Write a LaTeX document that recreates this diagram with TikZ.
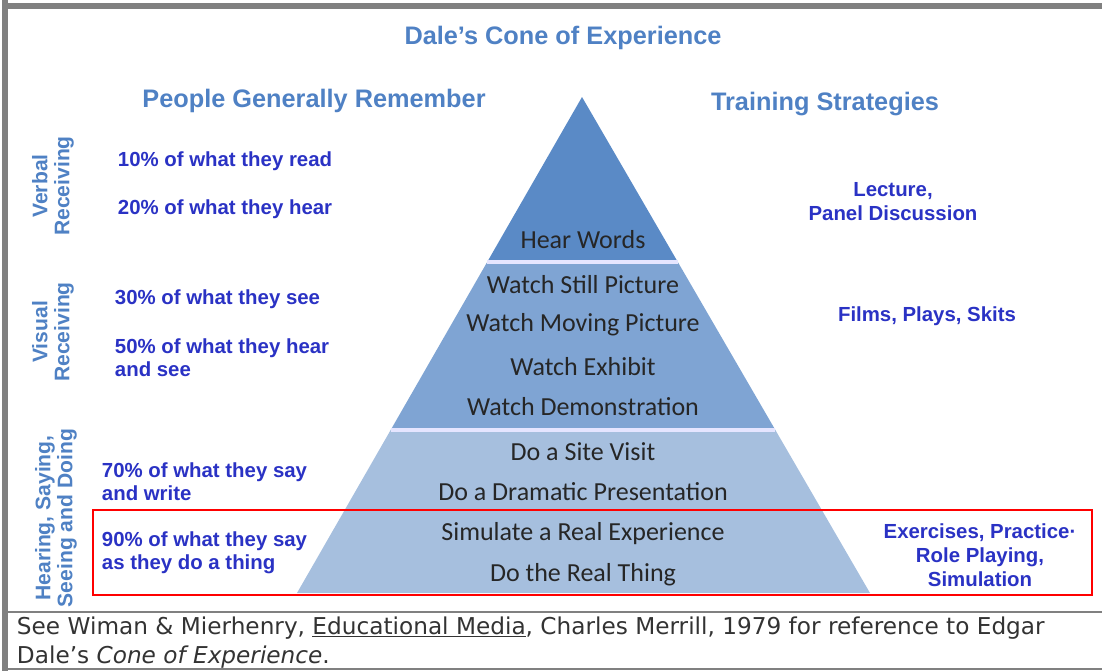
\documentclass[tikz,border=0pt]{standalone}
\usepackage{fontspec}
\setmainfont{Liberation Sans}
\newfontfamily\conefont{Carlito}
\newfontfamily\notefont{DejaVu Sans}
\usetikzlibrary{calc}

\definecolor{headblue}{RGB}{79,129,196}
\definecolor{textblue}{RGB}{42,50,196}
\definecolor{topband}{RGB}{90,138,198}
\definecolor{midband}{RGB}{127,164,211}
\definecolor{lowband}{RGB}{166,191,222}
\definecolor{framegray}{RGB}{128,128,128}

\begin{document}
\begin{tikzpicture}[x=0.025cm, y=-0.025cm,
    heading/.style={font=\bfseries\fontsize{18}{21}\selectfont, text=headblue},
    remember/.style={anchor=west, align=left, font=\bfseries\fontsize{14.5}{16.5}\selectfont, text=textblue},
    strategy/.style={align=center, font=\bfseries\fontsize{14.5}{17}\selectfont, text=textblue},
    sidelabel/.style={rotate=90, align=center, font=\bfseries\fontsize{15}{15.6}\selectfont, text=headblue},
    stage/.style={font=\conefont\fontsize{18.5}{20}\selectfont, text=black!85},
    note/.style={anchor=west, font=\notefont\fontsize{16.5}{20}\selectfont, text=black!80}]

    \useasboundingbox (0,0) rectangle (1102,671);

    % frame
    \draw[framegray, line width=4pt] (5,0) -- (5,671);
    \draw[framegray, line width=4pt] (3,6) -- (1102,6);
    \draw[framegray, line width=2pt] (5,612) -- (1102,612);
    \draw[framegray, line width=1pt] (5,669) -- (1102,669);

    % draw cone
    \coordinate (apex) at (582,97);
    \coordinate (bl) at (297,593);
    \coordinate (br) at (870,593);
    \coordinate (l1) at ($(apex)!0.3327!(bl)$);
    \coordinate (r1) at ($(apex)!0.3327!(br)$);
    \coordinate (l2) at ($(apex)!0.6714!(bl)$);
    \coordinate (r2) at ($(apex)!0.6714!(br)$);
    \fill[topband] (apex) -- (r1) -- (l1) -- cycle;
    \fill[midband] (l1) -- (r1) -- (r2) -- (l2) -- cycle;
    \fill[lowband] (l2) -- (r2) -- (br) -- (bl) -- cycle;
    \draw[white!90!blue, line width=2.2pt] (l1) -- (r1);
    \draw[white!90!blue, line width=2.2pt] (l2) -- (r2);

    % titles
    \node[heading] (title) at (563,38) {Dale's Cone of Experience};
    \node[heading] (remhead) at (314,101) {People Generally Remember};
    \node[heading] (stratheads) at (825,104) {Training Strategies};

    % cone stages
    \node[stage] (hear) at (583,240) {Hear Words};
    \node[stage] (still) at (583,285) {Watch Still Picture};
    \node[stage] (moving) at (583,325) {Watch Moving Picture};
    \node[stage] (exhibit) at (583,367) {Watch Exhibit};
    \node[stage] (demo) at (583,407) {Watch Demonstration};
    \node[stage] (site) at (583,452) {Do a Site Visit};
    \node[stage] (drama) at (583,492) {Do a Dramatic Presentation};
    \node[stage] (simulate) at (583,534) {Simulate a Real Experience};
    \node[stage] (real) at (583,575) {Do the Real Thing};

    % side labels
    \node[sidelabel] (verbal) at (53,186) {Verbal\\Receiving};
    \node[sidelabel] (visual) at (53,332) {Visual\\Receiving};
    \node[sidelabel] (doing) at (56,518) {Hearing, Saying,\\Seeing and Doing};

    % what people remember
    \node[remember] (read) at (113,161) {10\% of what they read};
    \node[remember] (hearp) at (113,209) {20\% of what they hear};
    \node[remember] (see) at (110,299) {30\% of what they see};
    \node[remember] (hearsee) at (110,358) {50\% of what they hear\\and see};
    \node[remember] (write) at (97,482) {70\% of what they say\\and write};
    \node[remember] (dothing) at (97,553) {90\% of what they say\\as they do a thing};

    % training strategies
    \node[strategy] (lecture) at (893,202) {Lecture,\\Panel Discussion};
    \node[strategy] (films) at (927,316) {Films, Plays, Skits};
    \node[strategy] (exercise) at (980,555) {Exercises, Practice·\\Role Playing,\\Simulation};

    % highlight
    \draw[red, line width=2.1pt] (93,510) rectangle (1092,595);

    % reference
    \node[note] (ref1) at (12,628) {See Wiman \& Mierhenry, \underline{Educational Media}, Charles Merrill, 1979 for reference to Edgar};
    \node[note] (ref2) at (12,657) {Dale’s \textit{Cone of Experience}.};

\end{tikzpicture}
\end{document}
